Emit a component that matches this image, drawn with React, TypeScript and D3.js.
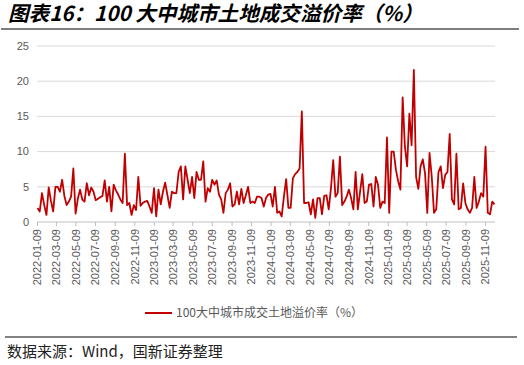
import React, { useEffect, useRef } from 'react';
import * as d3 from 'd3';

// 周度数据，起始日期
const startDate = '2022-01-09';

// 100大中城市成交土地溢价率（%），周度
const premiumRate: number[] = [
  2.0, 1.5, 4.1, 2.4, 1.0, 4.9, 3.0, 1.5, 5.0, 5.0,
  4.3, 6.0, 3.7, 2.4, 2.9, 3.6, 7.6, 1.2, 3.3, 4.6,
  3.2, 2.9, 5.5, 3.8, 4.9, 4.3, 3.1, 3.3, 3.5, 3.7,
  5.9, 2.9, 5.0, 1.5, 5.3, 4.5, 3.9, 3.2, 2.7, 9.7,
  2.4, 2.7, 1.0, 2.4, 1.7, 6.4, 2.3, 2.7, 2.9, 3.0,
  2.2, 1.3, 4.8, 0.8, 4.6, 2.5, 4.3, 5.6, 3.8, 2.0,
  4.3, 4.1, 4.1, 7.1, 7.9, 3.2, 7.9, 6.0, 4.1, 6.4,
  3.4, 7.1, 6.0, 6.0, 8.6, 2.9, 4.8, 4.3, 6.0, 5.3,
  5.9, 3.9, 3.2, 1.3, 4.1, 4.6, 5.5, 2.2, 2.5, 4.3,
  2.5, 4.7, 2.7, 3.8, 5.0, 2.7, 2.9, 2.7, 3.6, 3.6,
  3.4, 2.2, 3.4, 3.9, 4.0, 2.2, 5.0, 1.3, 1.5, 0.8,
  3.6, 6.1, 2.0, 2.0, 6.2, 6.8, 7.1, 7.6, 15.7, 2.7,
  2.7, 2.8, 1.1, 3.2, 0.6, 3.4, 3.4, 1.1, 3.7, 3.8,
  1.8, 4.8, 8.8, 3.6, 4.1, 9.3, 2.4, 2.9, 3.6, 4.6,
  3.4, 1.8, 7.1, 1.8, 4.3, 6.8, 2.7, 2.9, 5.3, 5.4,
  2.2, 6.4, 5.3, 2.0, 2.9, 2.7, 12.0, 1.3, 10.0, 10.0,
  7.4, 5.8, 4.6, 17.7, 10.7, 7.9, 15.4, 10.9, 21.6, 6.4,
  4.7, 7.9, 8.9, 6.9, 1.3, 9.8, 6.4, 1.3, 1.8, 7.1,
  7.9, 4.8, 6.7, 7.1, 12.5, 3.2, 2.5, 9.7, 1.8, 2.0,
  5.5, 2.7, 1.8, 1.3, 2.0, 6.4, 2.0, 2.9, 4.1, 3.6,
  10.7, 1.3, 1.1, 2.9, 2.5,
];

const tickLabels = [
  '2022-01-09', '2022-03-09', '2022-05-09', '2022-07-09', '2022-09-09', '2022-11-09',
  '2023-01-09', '2023-03-09', '2023-05-09', '2023-07-09', '2023-09-09', '2023-11-09',
  '2024-01-09', '2024-03-09', '2024-05-09', '2024-07-09', '2024-09-09', '2024-11-09',
  '2025-01-09', '2025-03-09', '2025-05-09', '2025-07-09', '2025-09-09', '2025-11-09',
];

const yTicks = [0, 5, 10, 15, 20, 25];

const titleText = '图表16：100 大中城市土地成交溢价率（%）';
const seriesName = '100大中城市成交土地溢价率（%）';
const sourceText = '数据来源：Wind，国新证券整理';

const lineColor = '#c00000';
const labelColor = '#595959';
const sansFont = '"Liberation Sans", Arial, sans-serif';
const cjkFont = '"Noto Sans CJK SC", sans-serif';

export default function App() {
  const ref = useRef<SVGSVGElement>(null);

  useEffect(() => {
    const svg = d3.select(ref.current);
    svg.selectAll('*').remove();

    const parse = d3.utcParse('%Y-%m-%d');
    const start = parse(startDate) as Date;
    const dates = premiumRate.map((_, i) => d3.utcWeek.offset(start, i));

    const x = d3.scaleUtc()
      .domain([dates[0], dates[dates.length - 1]])
      .range([37.5, 494.5]);
    const y = d3.scaleLinear().domain([0, 25]).range([222, 46]);

    // 标题
    svg.append('text')
      .attr('x', 8)
      .attr('y', 21)
      .attr('font-family', cjkFont)
      .attr('font-size', 20.6)
      .attr('font-weight', 'bold')
      .attr('font-style', 'italic')
      .attr('fill', '#000')
      .text(titleText);

    svg.append('line')
      .attr('x1', 1).attr('x2', 519)
      .attr('y1', 29).attr('y2', 29)
      .attr('stroke', '#7f7f7f')
      .attr('stroke-width', 2);

    // 网格线 + y轴标签
    const grid = svg.append('g');
    grid.selectAll('line')
      .data(yTicks.filter(d => d > 0))
      .enter()
      .append('line')
      .attr('x1', 37).attr('x2', 495)
      .attr('y1', d => y(d)).attr('y2', d => y(d))
      .attr('stroke', '#d9d9d9')
      .attr('stroke-width', 1);

    svg.append('g')
      .selectAll('text')
      .data(yTicks)
      .enter()
      .append('text')
      .attr('x', 29)
      .attr('y', d => y(d))
      .attr('dy', '0.35em')
      .attr('text-anchor', 'end')
      .attr('font-family', sansFont)
      .attr('font-size', 11)
      .attr('fill', labelColor)
      .text(d => d);

    // x轴
    svg.append('line')
      .attr('x1', 37).attr('x2', 495)
      .attr('y1', 222).attr('y2', 222)
      .attr('stroke', '#bfbfbf');

    const tickDates = tickLabels.map(s => parse(s) as Date);
    const xt = svg.append('g')
      .selectAll('g')
      .data(tickDates)
      .enter()
      .append('g')
      .attr('transform', d => 'translate(' + x(d) + ',0)');

    xt.append('line')
      .attr('y1', 222).attr('y2', 226)
      .attr('stroke', '#bfbfbf');

    xt.append('text')
      .attr('transform', 'translate(0,229) rotate(-90)')
      .attr('dy', '0.35em')
      .attr('text-anchor', 'end')
      .attr('font-family', sansFont)
      .attr('font-size', 11)
      .attr('fill', labelColor)
      .text((d, i) => tickLabels[i]);

    // 折线
    const line = d3.line<number>()
      .x((d, i) => x(dates[i]))
      .y(d => y(d));

    svg.append('path')
      .datum(premiumRate)
      .attr('fill', 'none')
      .attr('stroke', lineColor)
      .attr('stroke-width', 1.8)
      .attr('stroke-linejoin', 'round')
      .attr('d', line);

    // 图例
    svg.append('line')
      .attr('x1', 145).attr('x2', 172)
      .attr('y1', 313).attr('y2', 313)
      .attr('stroke', lineColor)
      .attr('stroke-width', 2);

    svg.append('text')
      .attr('x', 176)
      .attr('y', 313)
      .attr('dy', '0.35em')
      .attr('font-family', cjkFont)
      .attr('font-size', 12)
      .attr('fill', labelColor)
      .text(seriesName);

    // 数据来源
    svg.append('line')
      .attr('x1', 5).attr('x2', 517)
      .attr('y1', 337).attr('y2', 337)
      .attr('stroke', '#595959')
      .attr('stroke-width', 1.5);

    svg.append('text')
      .attr('x', 7)
      .attr('y', 357)
      .attr('font-family', cjkFont)
      .attr('font-size', 15)
      .attr('fill', '#222')
      .text(sourceText);
  }, []);

  return (
    <svg
      ref={ref}
      width={524}
      height={365}
      style={{ position: 'absolute', left: 0, top: 0, background: '#fff' }}
    />
  );
}
